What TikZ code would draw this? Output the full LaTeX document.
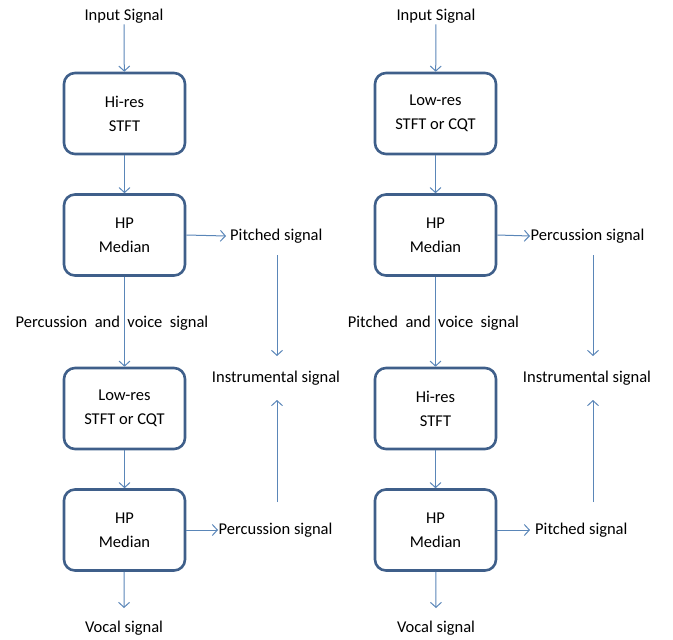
\documentclass[tikz,border=0pt]{standalone}
\usepackage{fontspec}
\setmainfont{Carlito}
\usetikzlibrary{arrows.meta}
\definecolor{boxc}{HTML}{3F5F8A}
\definecolor{arrc}{HTML}{5A86B8}
\begin{document}
\begin{tikzpicture}[x=1pt,y=-1pt,
  blk/.style={draw=boxc,line width=2.6pt,rounded corners=11pt,minimum width=121pt,minimum height=81pt,align=center,inner sep=0pt,font=\fontsize{16.5}{24}\selectfont},
  lbl/.style={inner sep=1pt,font=\fontsize{16.5}{20}\selectfont},
  arr/.style={draw=arrc,line width=1pt,-{Straight Barb[length=5pt,width=11pt]}},
  ln/.style={draw=arrc,line width=1pt}]
\useasboundingbox (0,0) rectangle (673,640);
% left column
\node[lbl] (inL) at (124,16) {Input Signal};
\node[blk] (b1L) at (124.5,113.5) {Hi-res\\STFT};
\node[blk] (b2L) at (124.5,235) {HP\\Median};
\node[lbl] (mL) at (112,323) {Percussion\ \ and\ \ voice\ \ signal};
\node[blk] (b3L) at (124.5,408.5) {Low-res\\STFT or CQT};
\node[blk] (b4L) at (124.5,530) {HP\\Median};
\node[lbl] (vL) at (124,628) {Vocal signal};
\node[lbl,anchor=west,inner sep=4pt] (pL) at (226,236) {Pitched signal};
\node[lbl] (iL) at (276,378) {Instrumental signal};
\node[lbl,anchor=west,inner sep=0.5pt] (qL) at (218,530) {Percussion signal};
\coordinate (t1L) at (277,255);
\coordinate (t2L) at (277,502);
\draw[arr] (inL) -- (b1L);
\draw[arr] (b1L) -- (b2L);
\draw[arr] (b2L) -- (b3L);
\draw[arr] (b3L) -- (b4L);
\draw[arr] (b4L) -- (124,608);
\draw[arr] (b2L.east) -- (pL.west);
\draw[arr] (b4L.east) -- (qL.west);
\draw[arr] (t1L) -- (277,356);
\draw[arr] (t2L) -- (277,400);
% right column
\node[lbl] (inR) at (436,16) {Input Signal};
\node[blk] (b1R) at (435.5,113.5) {Low-res\\STFT or CQT};
\node[blk] (b2R) at (435.5,235) {HP\\Median};
\node[lbl] (mR) at (433.5,323) {Pitched\ \ and\ \ voice\ \ signal};
\node[blk] (b3R) at (435.5,408.5) {Hi-res\\STFT};
\node[blk] (b4R) at (435.5,530) {HP\\Median};
\node[lbl] (vR) at (436,628) {Vocal signal};
\node[lbl,anchor=west,inner sep=0.5pt] (pR) at (530,236) {Percussion signal};
\node[lbl] (iR) at (587,378) {Instrumental signal};
\node[lbl,anchor=west,inner sep=5pt] (qR) at (530,530) {Pitched signal};
\coordinate (t1R) at (593,255);
\coordinate (t2R) at (593,502);
\draw[arr] (inR) -- (b1R);
\draw[arr] (b1R) -- (b2R);
\draw[arr] (b2R) -- (b3R);
\draw[arr] (b3R) -- (b4R);
\draw[arr] (b4R) -- (436,608);
\draw[arr] (b2R.east) -- (pR.west);
\draw[arr] (b4R.east) -- (qR.west);
\draw[arr] (t1R) -- (593,356);
\draw[arr] (t2R) -- (593,400);
\end{tikzpicture}
\end{document}
